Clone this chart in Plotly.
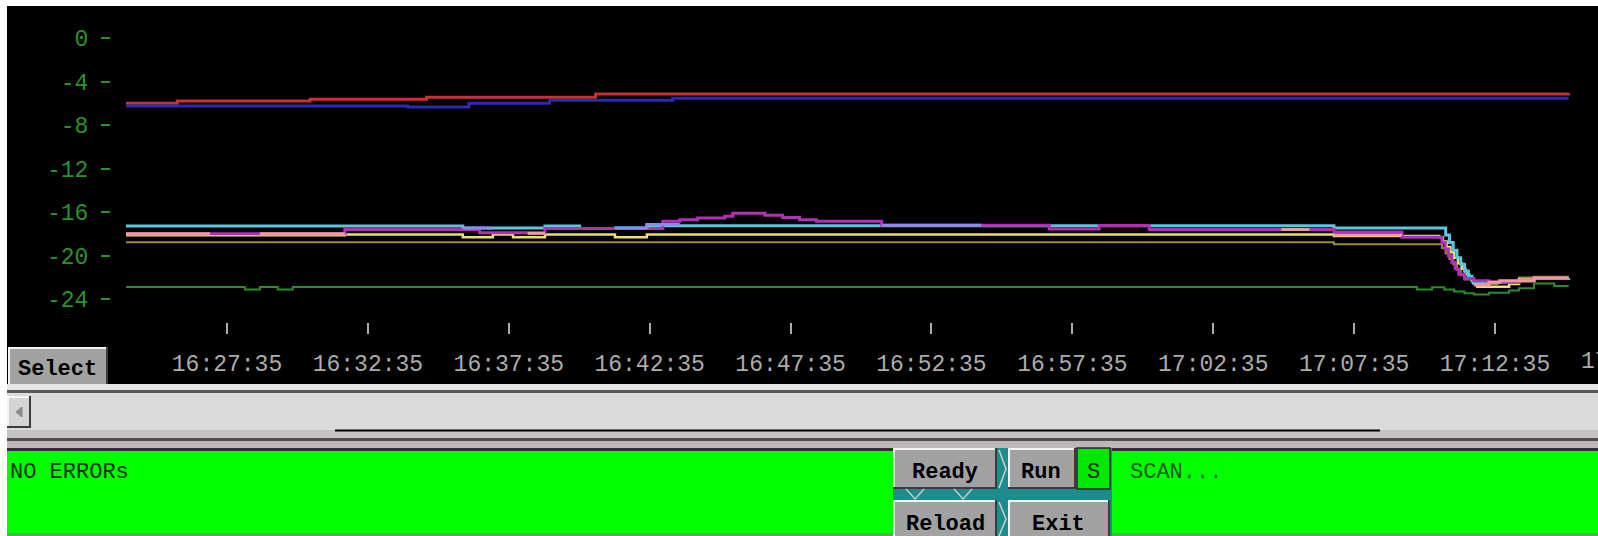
import plotly.graph_objects as go
from datetime import datetime, timedelta

# ---------------------------------------------------------------- data
DAY = "2000-01-01"

red_t = ["16:24:00", "16:25:49", "16:30:32", "16:34:40", "16:40:40", "17:15:12"]
red_v = [-6.0, -5.8, -5.62, -5.45, -5.15, -5.1]

blue_t = ["16:24:00", "16:34:00", "16:36:10", "16:39:02", "16:43:24", "17:15:12"]
blue_v = [-6.25, -6.35, -6.0, -5.72, -5.55, -5.55]

green_t = ["16:24:00", "16:28:13", "16:28:45", "16:29:23", "16:29:55", "17:09:49",
           "17:10:21", "17:10:47", "17:11:08", "17:11:30", "17:11:50", "17:12:22",
           "17:13:05", "17:13:26", "17:13:58", "17:14:41", "17:15:12"]
green_v = [-22.87, -23.1, -22.87, -23.1, -22.87, -23.1,
           -22.9, -23.1, -23.3, -23.45, -23.57, -23.4,
           -23.2, -23.0, -22.56, -22.78, -22.78]

olive_t = ["16:24:00", "17:06:52", "17:10:42", "17:10:50", "17:10:58", "17:11:06",
           "17:11:14", "17:11:22", "17:11:30", "17:11:50", "17:12:40", "17:13:26",
           "17:13:58", "17:15:12"]
olive_v = [-18.78, -18.96, -19.3, -19.8, -20.3, -20.8,
           -21.3, -21.8, -22.2, -22.6, -22.4, -22.0,
           -21.95, -21.95]

yellow_t = ["16:24:00", "16:31:46", "16:35:57", "16:37:01", "16:37:44", "16:38:52",
            "16:41:21", "16:42:29", "17:06:52", "17:10:36", "17:10:44", "17:10:52",
            "17:11:00", "17:11:08", "17:11:16", "17:11:24", "17:11:32", "17:11:40",
            "17:11:48", "17:11:57", "17:13:05", "17:13:26", "17:13:58", "17:15:12"]
yellow_v = [-18.12, -18.05, -18.3, -18.05, -18.3, -18.05,
            -18.3, -18.05, -18.2, -18.3, -18.7, -19.2,
            -19.7, -20.2, -20.7, -21.2, -21.7, -22.1,
            -22.5, -22.85, -22.6, -22.2, -22.1, -22.1]

cyan_t = ["16:24:00", "16:35:57", "16:38:52", "16:40:06", "16:41:21", "16:42:29",
          "17:06:52", "17:10:42", "17:10:50", "17:10:58", "17:11:06", "17:11:14",
          "17:11:22", "17:11:30", "17:11:38", "17:11:46", "17:11:50", "17:12:22",
          "17:13:26", "17:13:58", "17:15:12"]
cyan_v = [-17.28, -17.47, -17.28, -17.5, -17.45, -17.25,
          -17.46, -17.46, -18.1, -18.8, -19.5, -20.2,
          -20.8, -21.4, -21.9, -22.3, -22.56, -22.45,
          -22.3, -22.1, -22.05]

magenta_t = ["16:24:00", "16:31:46", "16:36:33", "16:38:52", "16:43:03", "16:43:39",
             "16:44:17", "16:45:15", "16:45:32", "16:46:40", "16:47:18", "16:47:54",
             "16:48:30", "16:50:49", "16:56:46", "16:58:32", "17:00:19", "17:06:52",
             "17:09:17", "17:10:42", "17:10:49", "17:10:56", "17:11:03", "17:11:10",
             "17:11:18", "17:11:30", "17:11:50", "17:12:22", "17:13:26", "17:13:58",
             "17:15:12"]
magenta_v = [-18.0, -17.6, -17.9, -17.5, -16.85, -16.7,
             -16.55, -16.37, -16.1, -16.3, -16.5, -16.7,
             -16.85, -17.2, -17.55, -17.22, -17.6, -17.83,
             -18.3, -18.8, -19.4, -20.0, -20.6, -21.2,
             -21.7, -22.1, -22.3, -22.45, -22.3, -22.05,
             -22.05]

# pink and lavender channels only report in intervals (None = no sample)
pink_t = ["16:24:00", "16:26:59", "16:27:00", "16:28:45", "16:31:46", "16:31:47",
          "16:38:15", "16:38:52", "16:38:53", "17:05:00", "17:06:00", "17:06:01",
          "17:06:52", "17:09:17", "17:09:18", "17:11:50", "17:12:22", "17:12:45",
          "17:13:58", "17:15:12"]
pink_v = [-18.0, -18.0, None, -17.98, -17.98, None,
          -17.95, -17.95, None, -17.6, -17.6, None,
          -18.1, -18.1, None, -22.7, -22.45, -22.3,
          -22.05, -22.05]

lavender_t = ["16:35:57", "16:37:01", "16:37:02", "16:41:21", "16:42:29", "16:43:39",
              "16:43:40", "16:50:49", "16:54:21"]
lavender_v = [-17.47, -17.47, None, -17.45, -17.15, -17.15,
              None, -17.2, -17.2]

y_ticks = [0, -4, -8, -12, -16, -20, -24]
x_tick_first = "16:27:35"
x_tick_step_min = 5

# ---------------------------------------------------------------- figure
W, H = 1598, 536


def ts(t):
    return f"{DAY} {t}"


def X(px):
    return px / W


def Y(py):
    return 1 - py / H


series = [
    ("red", red_t, red_v, "#c83232", 3),
    ("blue", blue_t, blue_v, "#2a2ab8", 3),
    ("green", green_t, green_v, "#2a8c2a", 2),
    ("olive", olive_t, olive_v, "#9a8a40", 2),
    ("yellow", yellow_t, yellow_v, "#e8e070", 2.5),
    ("cyan", cyan_t, cyan_v, "#5ac8dc", 3),
    ("magenta", magenta_t, magenta_v, "#b030b8", 3),
    ("pink", pink_t, pink_v, "#f09aa0", 3),
    ("lavender", lavender_t, lavender_v, "#8c8cf0", 3),
]

fig = go.Figure()
for name, t, v, color, w in series:
    fig.add_trace(go.Scatter(
        x=[ts(s) for s in t], y=v, mode="lines", name=name,
        line=dict(color=color, width=w, shape="hv"),
        connectgaps=False, hoverinfo="skip",
    ))

# time axis spans plot pixels 111..1598 at 140.89 px per 5 minutes
t0 = datetime.fromisoformat(ts(x_tick_first))
sec_per_px = 300 / 140.89
x_start = t0 + timedelta(seconds=(111 - 227) * sec_per_px)
x_end = t0 + timedelta(seconds=(W - 227) * sec_per_px)

# value axis: 0 at y=37.96 px, 10.884 px per unit
px_per_unit = 10.884
y_top = (37.96 - 10) / px_per_unit
y_bot = -(322 - 37.96) / px_per_unit

mono = "Liberation Mono, DejaVu Sans Mono, monospace"
axis_green = "#2a922a"
axis_gray = "#acacac"

fig.update_layout(
    width=W, height=H,
    margin=dict(l=0, r=0, t=0, b=0),
    paper_bgcolor="#ffffff",
    plot_bgcolor="#000000",
    showlegend=False,
    hovermode=False,
    xaxis=dict(
        domain=[X(111), 1],
        type="date",
        range=[x_start, x_end],
        tick0=ts(x_tick_first),
        dtick=x_tick_step_min * 60 * 1000,
        tickformat="%H:%M:%S",
        ticks="outside", ticklen=11, tickwidth=1.5, tickcolor=axis_gray,
        tickfont=dict(family=mono, size=23, color=axis_gray),
        ticklabelstandoff=9,
        showgrid=False, zeroline=False, showline=False,
    ),
    yaxis=dict(
        domain=[Y(322), Y(10)],
        range=[y_bot, y_top],
        tickvals=y_ticks,
        ticktext=[str(v) for v in y_ticks],
        ticks="outside", ticklen=9, tickwidth=1.5, tickcolor=axis_green,
        tickfont=dict(family=mono, size=23, color=axis_green),
        ticklabelstandoff=8,
        showgrid=False, zeroline=False, showline=False,
    ),
)

shapes = []


def rect(x0, y0, x1, y1, fill, layer="above", line_color=None, lw=0):
    shapes.append(dict(
        type="rect", xref="paper", yref="paper",
        x0=X(x0), x1=X(x1), y0=Y(y1), y1=Y(y0),
        fillcolor=fill, layer=layer,
        line=dict(width=lw, color=line_color or fill),
    ))


def seg(x0, y0, x1, y1, color, w=1.5):
    shapes.append(dict(
        type="line", xref="paper", yref="paper",
        x0=X(x0), x1=X(x1), y0=Y(y0), y1=Y(y1),
        line=dict(color=color, width=w), layer="above",
    ))


def poly(points, color, w=1.5, fill=None):
    d = "M " + " L ".join(f"{X(px)},{Y(py)}" for px, py in points)
    if fill:
        d += " Z"
    shapes.append(dict(
        type="path", xref="paper", yref="paper", path=d,
        line=dict(color=color, width=w),
        fillcolor=fill if fill else "rgba(0,0,0,0)", layer="above",
    ))


def button(x0, y0, x1, y1, face="#a2a2a2"):
    rect(x0, y0, x1, y1, face)
    seg(x0, y0 + 1, x1, y0 + 1, "#f4f4f4", 2)
    seg(x0 + 1, y0, x0 + 1, y1, "#f4f4f4", 2)
    seg(x0, y1 - 1, x1, y1 - 1, "#3c3c3c", 2)
    seg(x1 - 1, y0, x1 - 1, y1, "#3c3c3c", 2)


# black chart panel
rect(7, 6, W, 384, "#000000", layer="below")

# Select button
button(8, 347, 108, 388)

# horizontal scrollbar
rect(7, 384, W, 390, "#e6e6e6")
rect(7, 390, W, 393, "#5a5a5a")
rect(7, 393, W, 430, "#dadada")
rect(7, 430, W, 438, "#c4c4c4")
seg(335, 430.5, 1380, 430.5, "#000000", 2)
rect(7, 438, W, 441, "#505050")
rect(7, 441, W, 448, "#bfb6ba")
rect(7, 448, W, 451, "#303030")
button(7, 396, 31, 428, face="#d4d4d4")
poly([(22, 407), (16, 412), (22, 417)], "#8a8a8a", 1, fill="#8a8a8a")

# status area
rect(7, 451, W, 533, "#00ff00")
rect(7, 533, W, H, "#6c9c6c")

# control buttons
rect(893, 448, 1112, H, "#1c8c8c")
button(893, 448, 997, 489)
button(1008, 448, 1076, 489)
rect(1077, 448, 1110, 489, "#00e800", line_color="#2a2a2a", lw=1.5)
button(893, 500, 997, H + 2)
button(1008, 500, 1110, H + 2)
for cx in (915, 963):
    poly([(cx - 9, 489), (cx, 499), (cx + 9, 489)], "#c8c8c8", 1.5)
poly([(999, 450), (1006, 469), (999, 488)], "#d0d0d0", 1.5)
poly([(999, 502), (1006, 519), (999, 536)], "#d0d0d0", 1.5)

fig.update_layout(shapes=shapes)

annotations = []


def label(text, px, py, color="#000000", size=22, bold=False, anchor="center"):
    annotations.append(dict(
        text=f"<b>{text}</b>" if bold else text,
        xref="paper", yref="paper", x=X(px), y=Y(py),
        xanchor=anchor, yanchor="middle", showarrow=False,
        font=dict(family=mono, size=size, color=color),
    ))


label("Select", 58, 369, bold=True)
label("NO ERRORs", 8, 472, color="#0a300a", anchor="left")
label("SCAN...", 1128, 472, color="#1a5a1a", anchor="left")
label("Ready", 945, 472, bold=True)
label("Run", 1041, 472, bold=True)
label("S", 1093, 472, color="#0a300a")
label("Reload", 945, 524, bold=True)
label("Exit", 1058, 524, bold=True)

# next time label, partially beyond the right edge
t_next = t0 + timedelta(minutes=x_tick_step_min * 10)
label(t_next.strftime("%H:%M:%S"), 227 + 140.89 * 10, 362, color=axis_gray, size=23)

fig.update_layout(annotations=annotations)

fig.write_html("out.html", config={"displayModeBar": False})
